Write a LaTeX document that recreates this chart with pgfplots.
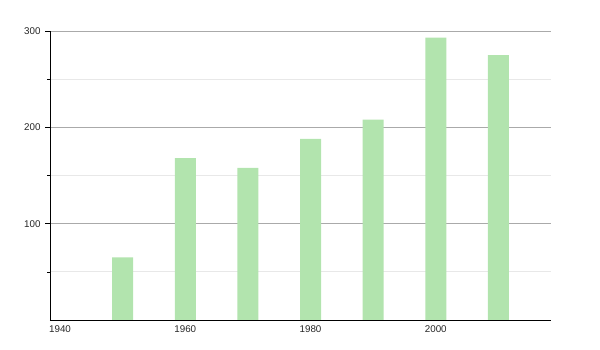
\documentclass[border=0pt]{standalone}
\usepackage{pgfplots}
\pgfplotsset{compat=1.18}
\usepackage{fontspec}
\setmainfont{Liberation Sans}
\definecolor{barg}{RGB}{178,228,174}
\definecolor{majg}{RGB}{170,170,170}
\definecolor{ming}{RGB}{232,232,232}
\begin{document}
\begin{tikzpicture}[x=1pt,y=1pt]
\path (0,0) rectangle (600,350);
\begin{axis}[
  at={(50pt,30pt)}, anchor=south west,
  scale only axis, width=501pt, height=289pt,
  xmin=1938.4, xmax=2018.4, ymin=0, ymax=300,
  axis lines=left, axis line style={-, black, line width=0.8pt},
  xtick={1940,1960,1980,2000}, xticklabels={1940,1960,1980,2000},
  x tick style={draw=none},
  ytick={100,200,300}, minor ytick={50,150,250},
  y tick style={black, line width=0.6pt},
  major tick length=5pt, minor tick length=3pt,
  tick align=outside,
  ymajorgrids, yminorgrids,
  major grid style={majg, line width=0.7pt},
  minor grid style={ming, line width=0.7pt},
  tick label style={font=\fontsize{9.8}{11}\selectfont, text=black!85},
  /pgf/number format/assume math mode=true,
  /pgf/number format/1000 sep={},
  xticklabel style={yshift=3pt},
  yticklabel style={xshift=-1pt},
]
\addplot[ybar, bar width=3.35, fill=barg, draw=none] coordinates {
  (1950,65) (1960,168) (1970,158) (1980,188) (1990,208) (2000,293) (2010,275)
};
\end{axis}
\end{tikzpicture}
\end{document}
